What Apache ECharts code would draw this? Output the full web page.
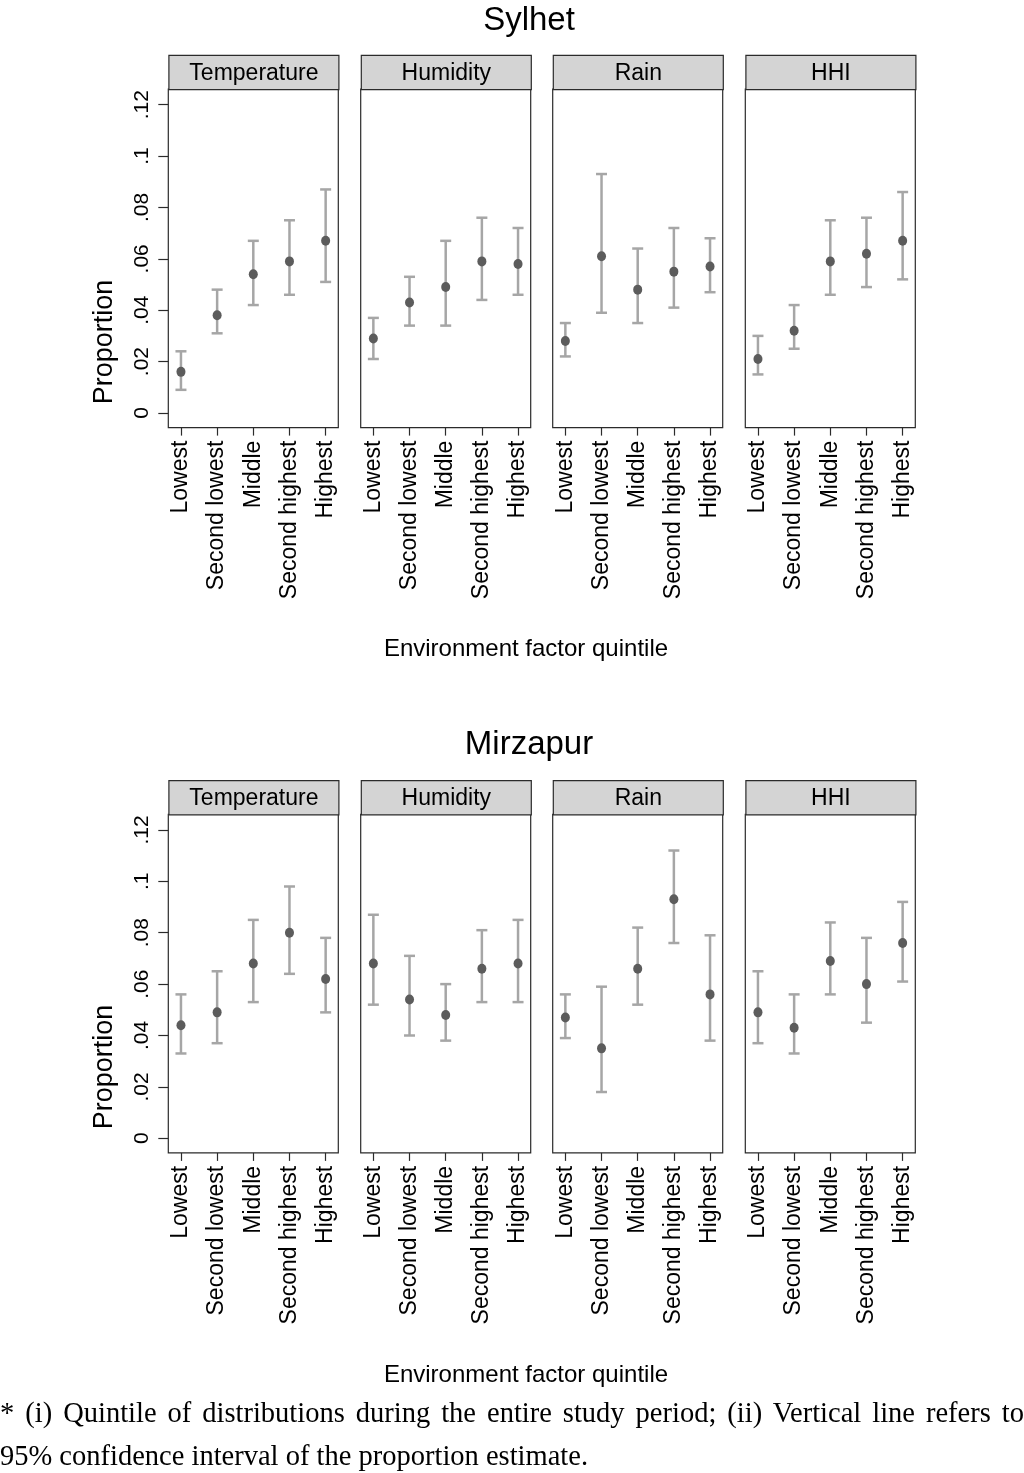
<!DOCTYPE html>
<html>
<head>
<meta charset="utf-8">
<script src="https://cdn.jsdelivr.net/npm/echarts@6/dist/echarts.min.js"></script>
<style>
  html, body { margin: 0; padding: 0; background: #fff; }
  #chart { position: absolute; left: 0; top: 0; width: 1024px; height: 1473px; }
  .note { position: absolute; left: 0; width: 1024px; font-family: 'Liberation Serif', 'Times New Roman', serif;
          font-size: 28.5px; line-height: 40px; color: #000; white-space: nowrap; }
  .note.justify { text-align: justify; text-align-last: justify; }
</style>
</head>
<body>
<div id="chart"></div>
<div class="note justify" style="top:1393px">* (i) Quintile of distributions during the entire study period; (ii) Vertical line refers to</div>
<div class="note" style="top:1436px">95% confidence interval of the proportion estimate.</div>
<script>
// categories
const quintiles = ['Lowest', 'Second lowest', 'Middle', 'Second highest', 'Highest']
const factors = ['Temperature', 'Humidity', 'Rain', 'HHI']
const sites = ['Sylhet', 'Mirzapur']
const yTicks = [0, 0.02, 0.04, 0.06, 0.08, 0.1, 0.12]

// Sylhet: one row per factor (Temperature, Humidity, Rain, HHI)
const sylhetEst = [
    [0.016, 0.038, 0.054, 0.059, 0.067],
    [0.029, 0.043, 0.049, 0.059, 0.058],
    [0.028, 0.061, 0.048, 0.055, 0.057],
    [0.021, 0.032, 0.059, 0.062, 0.067],
]
const sylhetLo = [
    [0.009, 0.031, 0.042, 0.046, 0.051],
    [0.021, 0.034, 0.034, 0.044, 0.046],
    [0.022, 0.039, 0.035, 0.041, 0.047],
    [0.015, 0.025, 0.046, 0.049, 0.052],
]
const sylhetHi = [
    [0.024, 0.048, 0.067, 0.075, 0.087],
    [0.037, 0.053, 0.067, 0.076, 0.072],
    [0.035, 0.093, 0.064, 0.072, 0.068],
    [0.030, 0.042, 0.075, 0.076, 0.086],
]

// Mirzapur
const mirzapurEst = [
    [0.044, 0.049, 0.068, 0.080, 0.062],
    [0.068, 0.054, 0.048, 0.066, 0.068],
    [0.047, 0.035, 0.066, 0.093, 0.056],
    [0.049, 0.043, 0.069, 0.060, 0.076],
]
const mirzapurLo = [
    [0.033, 0.037, 0.053, 0.064, 0.049],
    [0.052, 0.040, 0.038, 0.053, 0.053],
    [0.039, 0.018, 0.052, 0.076, 0.038],
    [0.037, 0.033, 0.056, 0.045, 0.061],
]
const mirzapurHi = [
    [0.056, 0.065, 0.085, 0.098, 0.078],
    [0.087, 0.071, 0.060, 0.081, 0.085],
    [0.056, 0.059, 0.082, 0.112, 0.079],
    [0.065, 0.056, 0.084, 0.078, 0.092],
]

const siteData = [
    { est: sylhetEst, lo: sylhetLo, hi: sylhetHi },
    { est: mirzapurEst, lo: mirzapurLo, hi: mirzapurHi },
]

// layout
const panelLeft = [168.3, 360.7, 552.7, 745.3]
const panelW = 170
const plotTop = [89, 814.3]
const plotH = 338.6
const stripH = 34.3
const titleTop = [-1, 723]
const xNameTop = [632, 1358]
const yNameMid = [342, 1067]
const font = "'Liberation Sans', Arial, sans-serif"
const barColor = '#a6a6a6'
const dotColor = '#5c5c5c'
const frameColor = '#2b2b2b'

const fmtY = v => v === 0 ? '0' : String(+v.toFixed(2)).replace(/^0/, '')

const errorBar = (params, api) => {
    const x = api.value(0)
    const top = api.coord([x, api.value(2)])
    const bot = api.coord([x, api.value(1)])
    const w = 5.5
    const style = { stroke: barColor, lineWidth: 2.5 }
    return {
        type: 'group',
        children: [
            { type: 'line', shape: { x1: top[0], y1: top[1], x2: bot[0], y2: bot[1] }, style },
            { type: 'line', shape: { x1: top[0] - w, y1: top[1], x2: top[0] + w, y2: top[1] }, style },
            { type: 'line', shape: { x1: bot[0] - w, y1: bot[1], x2: bot[0] + w, y2: bot[1] }, style },
        ],
    }
}

const grids = [], xAxes = [], yAxes = [], series = [], graphics = [], titles = []

sites.forEach((site, s) => {
    titles.push({
        text: site, left: 524, top: titleTop[s], textAlign: 'center',
        textStyle: { fontFamily: font, fontSize: 33, fontWeight: 'normal', color: '#000' },
    })
    titles.push({
        text: 'Environment factor quintile', left: 521, top: xNameTop[s], textAlign: 'center',
        textStyle: { fontFamily: font, fontSize: 24, fontWeight: 'normal', color: '#000' },
    })
    graphics.push({
        type: 'text', x: 105, y: yNameMid[s], rotation: Math.PI / 2,
        style: { text: 'Proportion', fill: '#000', font: `27px ${font}`, align: 'center', verticalAlign: 'middle' },
    })
    factors.forEach((factor, f) => {
        const idx = grids.length
        const first = f === 0
        grids.push({
            left: panelLeft[f], top: plotTop[s], width: panelW, height: plotH,
            show: true, borderColor: frameColor, borderWidth: 1.2, backgroundColor: '#fff',
        })
        xAxes.push({
            type: 'value', gridIndex: idx, min: 0.65, max: 5.35,
            axisLine: { show: false, onZero: false },
            splitLine: { show: false },
            axisTick: { show: true, customValues: [1, 2, 3, 4, 5], length: 8, lineStyle: { color: frameColor, width: 1.2 } },
            axisLabel: {
                customValues: [1, 2, 3, 4, 5], rotate: 90, margin: 13,
                formatter: v => quintiles[Math.round(v) - 1],
                fontFamily: font, fontSize: 23, color: '#000',
            },
        })
        yAxes.push({
            type: 'value', gridIndex: idx, min: -0.0057, max: 0.1261,
            axisLine: { show: false, onZero: false },
            splitLine: { show: false },
            axisTick: { show: first, customValues: yTicks, length: 10, lineStyle: { color: frameColor, width: 1.2 } },
            axisLabel: {
                show: first, customValues: yTicks, rotate: 90, margin: 16,
                formatter: fmtY, fontFamily: font, fontSize: 21, color: '#000',
            },
        })
        const d = siteData[s]
        series.push({
            type: 'custom', xAxisIndex: idx, yAxisIndex: idx, renderItem: errorBar, z: 2,
            data: quintiles.map((q, i) => [i + 1, d.lo[f][i], d.hi[f][i]]),
        })
        series.push({
            type: 'scatter', xAxisIndex: idx, yAxisIndex: idx, z: 3,
            symbol: 'circle', symbolSize: [9, 10],
            itemStyle: { color: dotColor, opacity: 1 },
            data: quintiles.map((q, i) => [i + 1, d.est[f][i]]),
        })
        // strip header above each panel
        graphics.push({
            type: 'group', left: panelLeft[f], top: plotTop[s] - stripH,
            children: [
                { type: 'rect', shape: { x: 0, y: 0, width: panelW, height: stripH },
                  style: { fill: '#d4d4d4', stroke: frameColor, lineWidth: 1.2 } },
                { type: 'text', x: panelW / 2, y: stripH / 2 + 1,
                  style: { text: factor, fill: '#000', font: `23px ${font}`, align: 'center', verticalAlign: 'middle' } },
            ],
        })
    })
})

const chart = echarts.init(document.getElementById('chart'), null, { renderer: 'canvas' })
chart.setOption({
    animation: false,
    backgroundColor: '#fff',
    title: titles,
    grid: grids,
    xAxis: xAxes,
    yAxis: yAxes,
    series,
    graphic: graphics,
})
</script>
</body>
</html>
